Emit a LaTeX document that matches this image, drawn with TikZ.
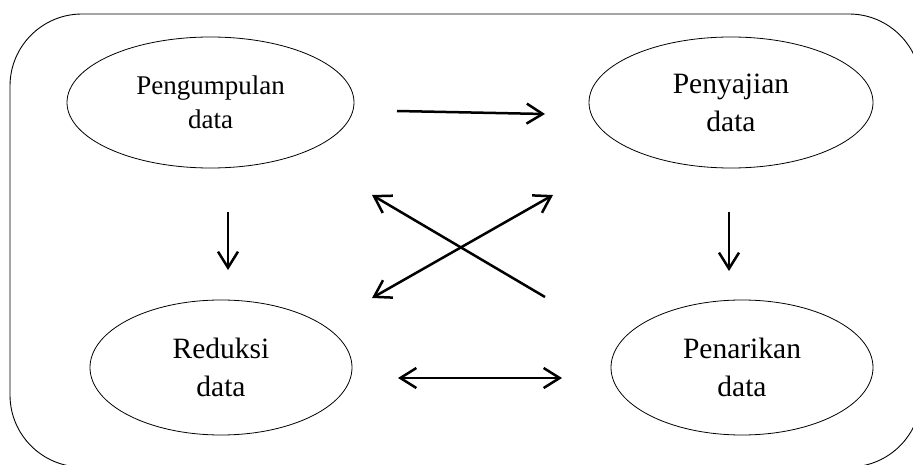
\documentclass[tikz,border=0pt]{standalone}
\usepackage{fontspec}
\setmainfont{Liberation Serif}
\usetikzlibrary{shapes.geometric,arrows.meta}
\begin{document}
\begin{tikzpicture}[x=1pt,y=-1pt,
  proc/.style={draw,ellipse,line width=0.8pt,inner sep=0pt,align=center},
  bigtext/.style={font=\fontsize{29.5}{38}\selectfont},
  smalltext/.style={font=\fontsize{27}{34}\selectfont},
  tip/.style={},
  conn/.style={line width=2.5pt,-{Straight Barb[length=16pt,width=20pt,line width=2.5pt]}},
  connboth/.style={line width=2.5pt,{Straight Barb[length=16pt,width=20pt,line width=2.5pt]}-{Straight Barb[length=16pt,width=20pt,line width=2.5pt]}}
]
\useasboundingbox (0,0) rectangle (913,465);
\clip (0,0) rectangle (913,465);
\draw[line width=0.9pt,rounded corners=72pt] (10,14) rectangle (921,467);

\node[proc,smalltext,minimum width=287pt,minimum height=131pt] (pg) at (210.5,102.5) {Pengumpulan\\data};
\node[proc,bigtext,minimum width=284pt,minimum height=131pt] (ps) at (731,102.5) {Penyajian\\data};
\node[proc,bigtext,minimum width=262pt,minimum height=135pt] (rd) at (221,367.5) {Reduksi\\data};
\node[proc,bigtext,minimum width=262pt,minimum height=135pt] (pn) at (742,367.5) {Penarikan\\data};

\coordinate (a1) at (397,111);
\coordinate (a2) at (545,114);
\coordinate (b1) at (228,212);
\coordinate (b2) at (228,270);
\coordinate (c1) at (729,212);
\coordinate (c2) at (729,271);
\coordinate (d1) at (398,378);
\coordinate (d2) at (562,378);
\coordinate (e1) at (545,297);
\coordinate (e2) at (372,195);
\coordinate (f1) at (372,298);
\coordinate (f2) at (553,195);

\draw[conn] (a1) -- (a2);
\draw[conn] (b1) -- (b2);
\draw[conn] (c1) -- (c2);
\draw[connboth] (d1) -- (d2);
\draw[conn] (e1) -- (e2);
\draw[connboth] (f1) -- (f2);
\end{tikzpicture}
\end{document}
